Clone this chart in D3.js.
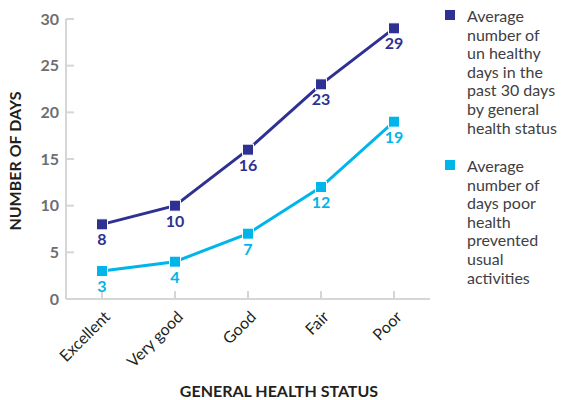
<!DOCTYPE html>
<html>
<head>
<meta charset="utf-8">
<script src="https://cdn.jsdelivr.net/npm/d3@7"></script>
<style>
  body { margin: 0; background: #fff; }
  svg { display: block; font-family: Lato, "Open Sans", sans-serif; }
</style>
</head>
<body>
<svg width="566" height="400"></svg>
<script>
// data
var categories = ['Excellent', 'Very good', 'Good', 'Fair', 'Poor'];
var unhealthyDays = [8, 10, 16, 23, 29];
var preventedDays = [3, 4, 7, 12, 19];
var yTicks = [0, 5, 10, 15, 20, 25, 30];
var legendLabels = [
    ['Average', 'number of', 'un healthy', 'days in the', 'past 30 days', 'by general', 'health status'],
    ['Average', 'number of', 'days poor', 'health', 'prevented', 'usual', 'activities']
];
var colors = ['#2e3192', '#00b5ea'];

// setup
var svg = d3.select('svg');
var axisColor = '#d6d6d6';

var x = d3.scalePoint()
    .domain(categories)
    .range([102, 394]);

var y = d3.scaleLinear()
    .domain([0, 30])
    .range([299, 19]);

// axes
var yAxis = svg.append('g').attr('transform', 'translate(66,0)');
yAxis.append('line')
    .attr('y1', y(0)).attr('y2', y(30))
    .attr('stroke', axisColor).attr('stroke-width', 2);
yAxis.selectAll('.tick')
    .data(yTicks)
    .enter().append('line')
    .attr('x1', 0).attr('x2', 8)
    .attr('y1', d => y(d)).attr('y2', d => y(d))
    .attr('stroke', axisColor).attr('stroke-width', 2);
yAxis.selectAll('.lbl')
    .data(yTicks)
    .enter().append('text')
    .attr('x', -7).attr('y', d => y(d))
    .attr('dy', '0.36em')
    .attr('text-anchor', 'end')
    .style('font-size', '16px')
    .style('font-weight', 'bold')
    .style('fill', '#6d6e71')
    .text(d => d);

var xAxis = svg.append('g').attr('transform', 'translate(0,' + y(0) + ')');
xAxis.append('line')
    .attr('x1', 66).attr('x2', 430)
    .attr('stroke', axisColor).attr('stroke-width', 2);
xAxis.selectAll('.tick')
    .data(categories)
    .enter().append('line')
    .attr('x1', d => x(d)).attr('x2', d => x(d))
    .attr('y1', 0).attr('y2', -8)
    .attr('stroke', axisColor).attr('stroke-width', 2);
xAxis.selectAll('.lbl')
    .data(categories)
    .enter().append('text')
    .attr('transform', d => 'translate(' + (x(d) + 5) + ',15) rotate(-45)')
    .attr('text-anchor', 'end')
    .attr('dy', '0.35em')
    .style('font-size', '16px')
    .style('fill', '#231f20')
    .text(d => d);

// axis titles
svg.append('text')
    .attr('x', 279).attr('y', 397)
    .attr('text-anchor', 'middle')
    .style('font-size', '16px')
    .style('font-weight', 'bold')
    .style('fill', '#231f20')
    .text('GENERAL HEALTH STATUS');

svg.append('text')
    .attr('transform', 'translate(21,161) rotate(-90)')
    .attr('text-anchor', 'middle')
    .style('font-size', '16px')
    .style('font-weight', 'bold')
    .style('fill', '#231f20')
    .text('NUMBER OF DAYS');

// series
var line = d3.line()
    .x((d, i) => x(categories[i]))
    .y(d => y(d));

[unhealthyDays, preventedDays].forEach(function(series, s) {
    var g = svg.append('g').classed('series', true);
    g.append('path')
        .datum(series)
        .attr('d', line)
        .attr('fill', 'none')
        .attr('stroke', colors[s])
        .attr('stroke-width', 3);
    g.selectAll('rect')
        .data(series)
        .enter().append('rect')
        .attr('x', (d, i) => x(categories[i]) - 5.5)
        .attr('y', d => y(d) - 5.5)
        .attr('width', 11).attr('height', 11)
        .attr('fill', colors[s])
        .attr('stroke', '#fff')
        .attr('stroke-width', 1);
    g.selectAll('text')
        .data(series)
        .enter().append('text')
        .attr('x', (d, i) => x(categories[i]))
        .attr('y', d => y(d) + 21)
        .attr('text-anchor', 'middle')
        .style('font-size', '16px')
        .style('font-weight', 'bold')
        .style('fill', colors[s])
        .text(d => d);
});

// legend
var legendTop = [10, 160];
legendLabels.forEach(function(lines, s) {
    var lg = svg.append('g').attr('transform', 'translate(445,' + legendTop[s] + ')');
    lg.append('rect')
        .attr('width', 10).attr('height', 10)
        .attr('fill', colors[s]);
    lg.append('text')
        .attr('x', 22).attr('y', 12)
        .style('font-size', '16px')
        .style('fill', '#414042')
        .selectAll('tspan')
        .data(lines)
        .enter().append('tspan')
        .attr('x', 22)
        .attr('dy', (d, i) => i === 0 ? 0 : 18.6)
        .text(d => d);
});
</script>
</body>
</html>
